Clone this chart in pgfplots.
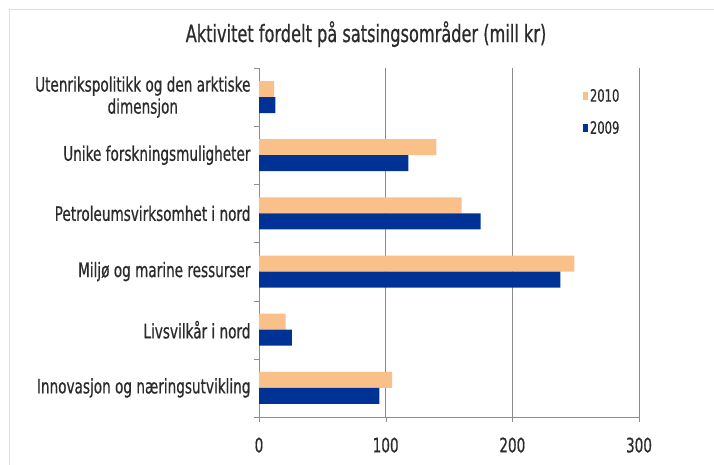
\documentclass[border=0pt]{standalone}
\usepackage{pgfplots}
\pgfplotsset{compat=1.18}
\usepackage{fontspec}
\setmainfont{DejaVu Sans}[FakeStretch=0.68, FakeBold=0.6]
\definecolor{bar10}{HTML}{F9C08A}
\definecolor{bar09}{HTML}{003296}
\definecolor{txt}{HTML}{2B2B2B}
\definecolor{axgray}{HTML}{8C8C8C}
\begin{document}
\begin{tikzpicture}
\path[use as bounding box] (0,0) rectangle (714pt,465pt);
\begin{axis}[
  at={(259pt,48pt)}, anchor=south west,
  scale only axis, width=380pt, height=349pt,
  xbar, bar width=16pt,
  xmin=0, xmax=300, ymin=-0.5, ymax=5.5,
  axis x line*=bottom, axis y line*=left,
  axis line style={axgray, -},
  xtick={0,100,200,300},
  ytick={-0.5,0.5,...,5.5},
  y tick label as interval,
  yticklabels={Innovasjon og næringsutvikling, Livsvilkår i nord, Miljø og marine ressurser, Petroleumsvirksomhet i nord, Unike forskningsmuligheter, {Utenrikspolitikk og den arktiske\\dimensjon}},
  /pgf/number format/assume math mode=true,
  tick align=outside, major tick length=5pt,
  tick style={axgray},
  xmajorgrids, grid style={axgray},
  ticklabel style={font=\fontsize{20}{22}\selectfont, text=txt},
  yticklabel style={align=center, xshift=0pt},
  xticklabel style={yshift=-12pt},
  title={Aktivitet fordelt på satsingsområder (mill kr)},
  title style={at={(axis description cs:0.2816,1.08)}, anchor=center, font=\fontsize{23.8}{27}\selectfont, text=txt},
  legend style={at={(0.852,0.946)}, anchor=north west, draw=none, fill=none, font=\fontsize{17}{19}\selectfont, text=txt, row sep=14pt, inner sep=0pt},
  legend cell align=left,
  legend image code/.code={\fill[#1,draw=none] (0pt,-4pt) rectangle (5pt,4pt);},
]
\addplot[fill=bar10, draw=none, bar shift=8pt] coordinates {(105,0) (21,1) (249,2) (160,3) (140,4) (12,5)};
\addplot[fill=bar09, draw=none, bar shift=-8pt] coordinates {(95,0) (26,1) (238,2) (175,3) (118,4) (13,5)};
\legend{2010,2009}
\end{axis}
\draw[gray!25, line width=1pt] (9pt,0pt) |- (714pt,455.5pt);
\end{tikzpicture}
\end{document}
